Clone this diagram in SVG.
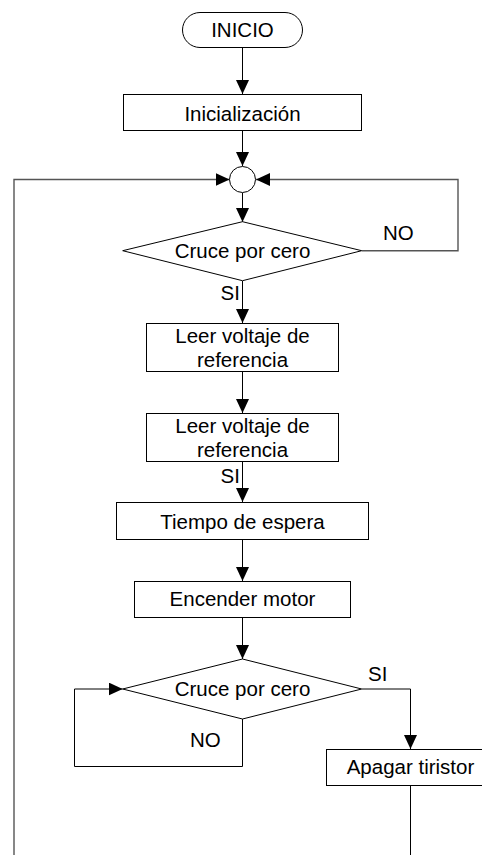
<svg xmlns="http://www.w3.org/2000/svg" width="482" height="855" viewBox="0 0 482 855">
<style>
.n{fill:#fff;stroke:#000;stroke-width:1}
.t{font-family:"Liberation Sans",Arial,sans-serif;font-size:20.5px;fill:#000;text-anchor:middle}
.l{font-family:"Liberation Sans",Arial,sans-serif;font-size:20.5px;fill:#000}
.c{fill:none;stroke:#000;stroke-width:1}
.g{fill:none;stroke:#555;stroke-width:1.4}
</style>
<defs>
<marker id="a" markerUnits="userSpaceOnUse" markerWidth="15" markerHeight="14" refX="14" refY="6.5" orient="auto">
<path d="M0,0 L14,6.5 L0,13 Z" fill="#000"/>
</marker>
</defs>
<rect width="482" height="855" fill="#fff"/>
<g id="connectors">
<path class="c" d="M242.5,47.5 V94" marker-end="url(#a)"/>
<path class="c" d="M242.5,130.5 V166" marker-end="url(#a)"/>
<path class="c" d="M242.5,193 V222" marker-end="url(#a)"/>
<path class="c" d="M242.5,281 V323" marker-end="url(#a)"/>
<path class="c" d="M242.5,372 V413" marker-end="url(#a)"/>
<path class="c" d="M242.5,462 V502" marker-end="url(#a)"/>
<path class="c" d="M242.5,540 V581" marker-end="url(#a)"/>
<path class="c" d="M242.5,618 V659" marker-end="url(#a)"/>
<path class="g" d="M362,250.7 H458 V179.5 H256" marker-end="url(#a)"/>
<path class="g" d="M14,855 V179.5 H229.5" marker-end="url(#a)"/>
<path class="c" d="M362,689 H410.5 V749" marker-end="url(#a)"/>
<path class="c" d="M242.5,719 V766.5 H74.5 V689 H122.7" marker-end="url(#a)"/>
<path class="c" d="M410.5,786 V855"/>
</g>
<g id="inicio">
<rect class="n" x="182.5" y="12.5" width="120" height="35" rx="17.5"/>
<text class="t" x="242.5" y="37">INICIO</text>
</g>
<g id="inicializacion">
<rect class="n" x="123.5" y="94.5" width="238" height="36"/>
<text class="t" x="242.5" y="121">Inicialización</text>
</g>
<g id="union">
<circle class="n" cx="242.5" cy="179.5" r="13"/>
</g>
<g id="cruce1">
<polygon class="n" points="122.7,250.7 242.5,221.7 361.7,250.7 242.5,280.7"/>
<text class="t" x="242.5" y="258">Cruce por cero</text>
<text class="l" x="383" y="239.5">NO</text>
<text class="l" x="220.5" y="299.5">SI</text>
</g>
<g id="leer1">
<rect class="n" x="146.5" y="323.5" width="192" height="48"/>
<text class="t" x="242.5" y="343">Leer voltaje de</text>
<text class="t" x="242.5" y="367">referencia</text>
</g>
<g id="leer2">
<rect class="n" x="146.5" y="413.5" width="192" height="48"/>
<text class="t" x="242.5" y="433">Leer voltaje de</text>
<text class="t" x="242.5" y="457">referencia</text>
<text class="l" x="220.5" y="483">SI</text>
</g>
<g id="espera">
<rect class="n" x="116.5" y="502.5" width="252" height="37"/>
<text class="t" x="242.5" y="528.5">Tiempo de espera</text>
</g>
<g id="encender">
<rect class="n" x="134.5" y="581.5" width="216" height="36"/>
<text class="t" x="242.5" y="606">Encender motor</text>
</g>
<g id="cruce2">
<polygon class="n" points="122.7,689 242.5,659 361.7,689 242.5,719"/>
<text class="t" x="242.5" y="696">Cruce por cero</text>
<text class="l" x="368" y="681">SI</text>
<text class="l" x="190" y="747">NO</text>
</g>
<g id="apagar">
<rect class="n" x="326.5" y="749.5" width="170" height="36"/>
<text class="t" x="410.5" y="773.5">Apagar tiristor</text>
</g>
</svg>
